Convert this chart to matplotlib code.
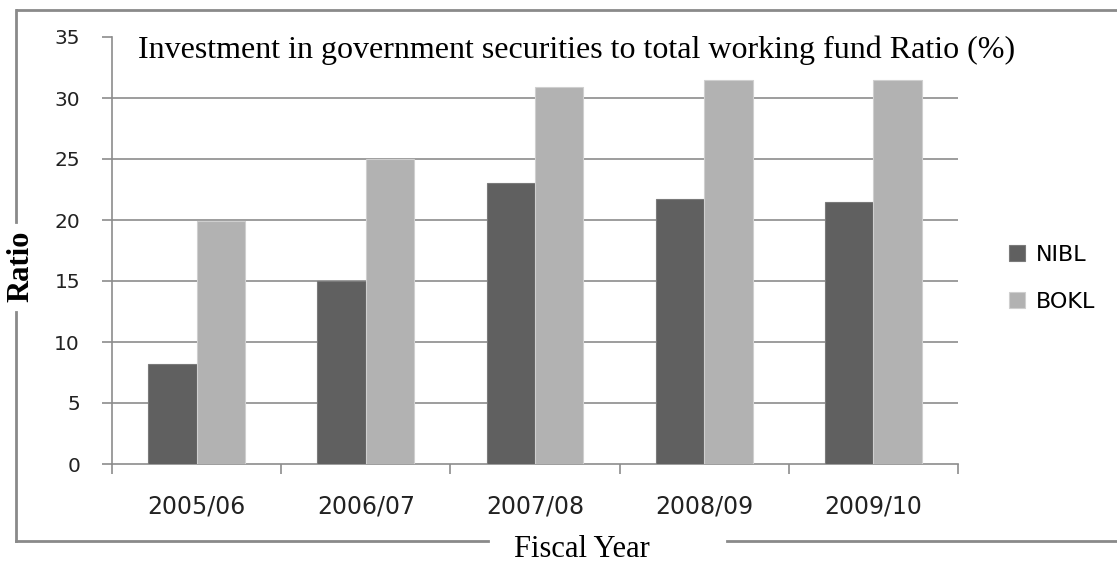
import numpy as np
import matplotlib
matplotlib.use("Agg")
import matplotlib.pyplot as plt
from matplotlib.lines import Line2D

years = ["2005/06", "2006/07", "2007/08", "2008/09", "2009/10"]
nibl = [8.2, 15.0, 23.0, 21.7, 21.5]
bokl = [19.9, 25.0, 30.9, 31.5, 31.5]
yticks = [0, 5, 10, 15, 20, 25, 30, 35]

W, H = 1117, 563
fig = plt.figure(figsize=(W / 100, H / 100), dpi=100)
ax = fig.add_axes([112 / W, 1 - 464 / H, (958 - 112) / W, (464 - 37) / H])

x = np.arange(len(years))
w = 1 / 3.5  # excel gap width 150%
ax.bar(x - w / 2, nibl, w, color="#606060", edgecolor="#7a7a7a", linewidth=0.8, zorder=3, label="NIBL")
ax.bar(x + w / 2, bokl, w, color="#b2b2b2", edgecolor="#cfcfcf", linewidth=0.8, zorder=3, label="BOKL")

# gridlines (top one is hidden behind the title in the original)
ax.hlines(yticks[1:-1], -0.5, len(years) - 0.5, color="#8c8c8c", linewidth=1.2, zorder=1)

ax.set_xlim(-0.5, len(years) - 0.5)
ax.set_ylim(0, 35)
ax.set_yticks(yticks)
ax.set_xticks(x)
ax.set_xticklabels(years)
ax.set_xticks(np.arange(len(years) + 1) - 0.5, minor=True)
ax.tick_params(axis="x", which="major", length=0, pad=22, labelsize=17, labelcolor="#222222")
ax.tick_params(axis="x", which="minor", length=7, color="#8c8c8c", width=1.2)
ax.tick_params(axis="y", length=7, color="#8c8c8c", width=1.2, labelsize=14.5, pad=16, labelcolor="#222222")

for s in ["top", "right"]:
    ax.spines[s].set_visible(False)
for s in ["left", "bottom"]:
    ax.spines[s].set_color("#8c8c8c")
    ax.spines[s].set_linewidth(1.2)

ax.legend(loc="center left", bbox_to_anchor=(1.05, 0.435), frameon=False, fontsize=16,
          handlelength=0.7, handleheight=0.7, handletextpad=0.5, labelspacing=1.2,
          borderaxespad=0)

fig.text(577 / W, 1 - 50 / H, "Investment in government securities to total working fund Ratio (%)",
         family="Liberation Serif", fontsize=23, ha="center", va="center")

# outer frame of the chart
fc = "#8a8a8a"
fig.add_artist(Line2D([17 / W, 1], [1 - 10 / H] * 2, color=fc, lw=2, transform=fig.transFigure))
fig.add_artist(Line2D([16 / W] * 2, [1 - 10 / H, 1 - 222 / H], color=fc, lw=2, transform=fig.transFigure))
fig.add_artist(Line2D([16 / W] * 2, [1 - 312 / H, 1 - 541 / H], color=fc, lw=2, transform=fig.transFigure))
fig.add_artist(Line2D([16 / W, 488 / W], [1 - 541 / H] * 2, color=fc, lw=2, transform=fig.transFigure))
fig.add_artist(Line2D([727 / W, 1], [1 - 541 / H] * 2, color=fc, lw=2, transform=fig.transFigure))

fig.text(21 / W, 1 - 266 / H, "Ratio", family="Liberation Serif", fontweight="bold",
         fontsize=22, rotation=90, ha="center", va="center")
fig.text(582 / W, 1 - 557 / H, "Fiscal Year", family="Liberation Serif", fontsize=22,
         ha="center", va="baseline")

fig.savefig("out.png", dpi=100)
